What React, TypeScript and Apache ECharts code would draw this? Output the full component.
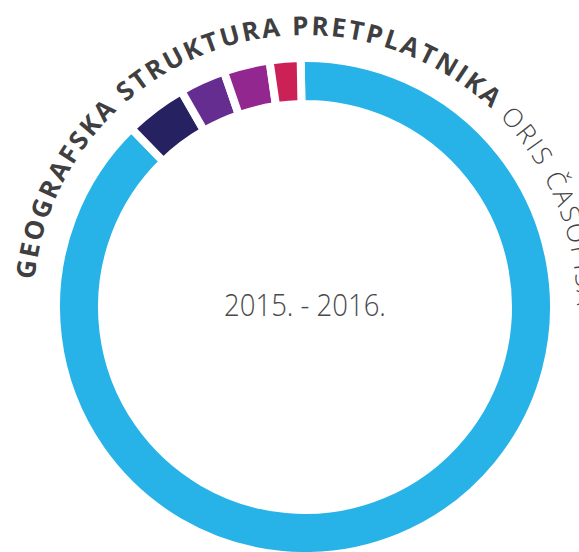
import React, { useEffect, useRef } from "react";
import * as echarts from "echarts";

// ---- data ----
const regions = ["Hrvatska", "Regija", "Europa", "Svijet", "Ostalo"];
const shares = [88, 4, 3, 3, 2];
const colors = ["#27b3e7", "#262262", "#652d90", "#92278f", "#cc2157"];

const TITLE_BOLD = "GEOGRAFSKA STRUKTURA PRETPLATNIKA";
const TITLE_LIGHT = " ORIS ČASOPISA";
const CENTER_LABEL = "2015. - 2016.";

// ---- layout ----
const W = 579;
const H = 552;
const CX = 305;
const CY = 307;
const TEXT_R = 282;
const TEXT_START_DEG = 174.5;
const FONT = "'Open Sans', 'Noto Sans', sans-serif";

type Part = { text: string; weight: number; size: number; spacing: number; color: string };

function arcText(parts: Part[]) {
  const canvas = document.createElement("canvas");
  const ctx = canvas.getContext("2d") as CanvasRenderingContext2D;
  let ang = (TEXT_START_DEG * Math.PI) / 180;
  const out: any[] = [];
  for (const p of parts) {
    const font = `${p.weight} ${p.size}px ${FONT}`;
    ctx.font = font;
    for (const ch of Array.from(p.text)) {
      const w = ctx.measureText(ch).width + p.spacing;
      const mid = ang - w / 2 / TEXT_R;
      if (ch !== " ") {
        out.push({
          type: "text",
          x: CX + TEXT_R * Math.cos(mid),
          y: CY - TEXT_R * Math.sin(mid),
          rotation: mid - Math.PI / 2,
          silent: true,
          style: {
            text: ch,
            x: 0,
            y: 0,
            fill: p.color,
            font,
            textAlign: "center",
            textVerticalAlign: "middle",
          },
        });
      }
      ang -= w / TEXT_R;
    }
  }
  return out;
}

export default function App() {
  const ref = useRef<HTMLDivElement>(null);
  useEffect(() => {
    if (!ref.current) return;
    const chart = echarts.init(ref.current, undefined, { renderer: "svg" });
    const graphics = arcText([
      { text: TITLE_BOLD, weight: 700, size: 26, spacing: 3, color: "#3f3f41" },
      { text: TITLE_LIGHT, weight: 300, size: 26, spacing: 3, color: "#444446" },
    ]);
    graphics.push({
      type: "text",
      x: CX,
      y: 304,
      scaleX: 0.86,
      silent: true,
      style: {
        text: CENTER_LABEL,
        x: 0,
        y: 0,
        fill: "#4a4a4c",
        font: `300 32px ${FONT}`,
        textAlign: "center",
        textVerticalAlign: "middle",
      },
    });
    chart.setOption({
      animation: false,
      backgroundColor: "#ffffff",
      graphic: { elements: graphics },
      series: [
        {
          type: "pie",
          center: [CX, CY],
          radius: [203, 249],
          startAngle: 91,
          clockwise: true,
          silent: true,
          label: { show: false },
          labelLine: { show: false },
          emphasis: { disabled: true },
          itemStyle: { borderColor: "#ffffff", borderWidth: 8 },
          data: regions.map((name, i) => ({
            name,
            value: shares[i],
            itemStyle: { color: colors[i] },
          })),
        },
      ],
    });
    return () => chart.dispose();
  }, []);
  return (
    <div
      ref={ref}
      style={{ position: "fixed", left: 0, top: 0, width: W, height: H }}
    />
  );
}
